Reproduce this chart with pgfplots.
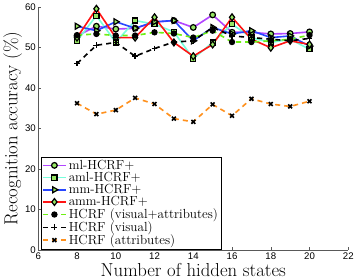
\documentclass[border=0pt]{standalone}
\usepackage{fontspec}
\usepackage{pgfplots}
\pgfplotsset{compat=1.18}
\newfontfamily\tickfont{Liberation Sans}
\definecolor{cpurple}{RGB}{178,70,255}
\definecolor{ccyan}{RGB}{120,255,220}
\definecolor{cblue}{RGB}{40,70,255}
\definecolor{cred}{RGB}{255,20,20}
\definecolor{cgreen}{RGB}{110,240,20}
\definecolor{corange}{RGB}{255,145,30}
\definecolor{cfill}{RGB}{150,230,100}
\begin{document}
\begin{tikzpicture}
\begin{axis}[
  scale only axis,
  width=306pt, height=240pt,
  xmin=6, xmax=22, ymin=0, ymax=60,
  xtick={6,8,...,22}, ytick={0,10,...,60},
  axis x line*=bottom, axis y line*=left,
  axis line style={gray!70!black, line width=0.5pt},
  tick style={gray!70!black, line width=0.5pt},
  tick align=inside,
  major tick length=3pt,
  /pgf/number format/assume math mode=true,
  tick label style={font=\fontsize{9.5}{10}\tickfont},
  xticklabel style={yshift=1pt},
  yticklabel style={xshift=1pt},
  xlabel={Number of hidden states},
  ylabel={Recognition accuracy (\%)},
  label style={font=\fontsize{18.5}{20}\selectfont},
  xlabel style={yshift=3pt},
  ylabel style={yshift=-4pt},
  legend cell align=left,
  legend style={at={(0.008,0.003)}, anchor=south west,
    font=\fontsize{13}{13}\selectfont, draw=black, line width=0.6pt,
    inner sep=1pt, row sep=-2.6pt},
  legend image code/.code={\draw[mark repeat=2,mark phase=2] plot coordinates {(0cm,0cm) (0.4cm,0cm) (0.8cm,0cm)};},
  every axis plot/.append style={line width=1.6pt},
  mark options={solid, line width=1.1pt, draw=black},
]
\addplot[cpurple, mark=*, mark size=2.8pt, mark options={solid, draw=black, fill=cfill, line width=1.2pt}] coordinates {
(8,52.8) (9,55.2) (10,54.5) (11,54.7) (12,56.2) (13,56.6) (14,54.9) (15,58.0) (16,53.7) (17,53.7) (18,53.3) (19,53.4) (20,53.8)};
\addlegendentry{ml-HCRF+}
\addplot[ccyan, mark=square*, mark size=2.5pt, mark options={solid, draw=black, fill=cfill, line width=1.2pt}] coordinates {
(8,51.6) (9,57.8) (10,51.2) (11,56.6) (12,55.7) (13,53.8) (14,47.2) (15,51.2) (16,55.7) (17,52.4) (18,51.2) (19,52.0) (20,49.5)};
\addlegendentry{aml-HCRF+}
\addplot[cblue, mark=triangle*, mark size=3.4pt, mark options={solid, draw=black, fill=cfill, line width=1.2pt, rotate=-90}] coordinates {
(8,55.2) (9,54.1) (10,56.3) (11,54.7) (12,56.3) (13,56.6) (14,51.6) (15,54.9) (16,53.3) (17,54.1) (18,52.4) (19,52.8) (20,50.3)};
\addlegendentry{mm-HCRF+}
\addplot[cred, mark=diamond*, mark size=3.4pt, mark options={solid, draw=black, fill=cfill, line width=1.2pt}] coordinates {
(8,52.4) (9,59.5) (10,52.4) (11,52.4) (12,57.4) (13,51.2) (14,47.8) (15,50.7) (16,57.4) (17,52.0) (18,49.9) (19,51.6) (20,50.7)};
\addlegendentry{amm-HCRF+}
\addplot[cgreen, dashed, dash pattern=on 5pt off 4pt, mark=*, mark size=2.3pt, mark options={solid, draw=black, fill=black}] coordinates {
(8,53.0) (9,53.3) (10,52.9) (11,52.9) (12,53.7) (13,53.4) (14,52.4) (15,54.1) (16,51.3) (17,51.3) (18,51.6) (19,52.0) (20,53.0)};
\addlegendentry{HCRF (visual+attributes)}
\addplot[black, dashed, dash pattern=on 5pt off 4pt, mark=+, mark size=2.9pt, mark options={solid, draw=black, line width=1.5pt}] coordinates {
(8,46.0) (9,50.5) (10,51.2) (11,47.8) (12,49.7) (13,51.3) (14,51.6) (15,54.9) (16,52.8) (17,52.4) (18,52.0) (19,51.6) (20,52.2)};
\addlegendentry{HCRF (visual)}
\addplot[corange, dashed, dash pattern=on 5pt off 4pt, mark=x, mark size=2.7pt, mark options={solid, draw=black, line width=1.6pt}] coordinates {
(8,36.2) (9,33.5) (10,34.5) (11,37.5) (12,36.0) (13,32.4) (14,31.6) (15,35.9) (16,33.1) (17,37.3) (18,36.0) (19,35.4) (20,36.7)};
\addlegendentry{HCRF (attributes)}
\end{axis}
\end{tikzpicture}
\end{document}
